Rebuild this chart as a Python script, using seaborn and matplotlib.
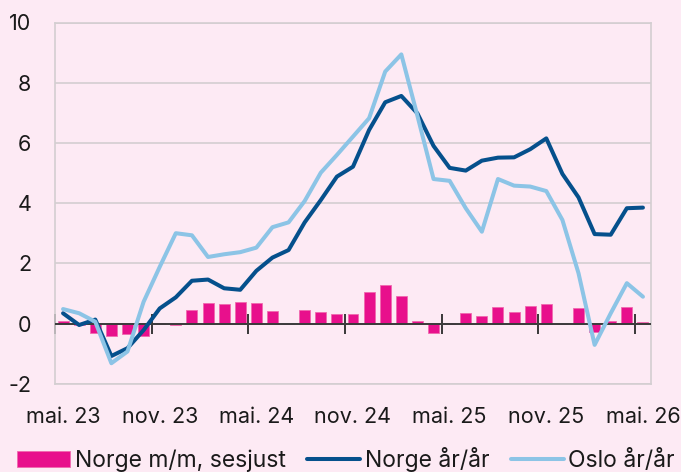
import matplotlib
matplotlib.use("Agg")
import matplotlib.pyplot as plt
import seaborn as sns
import pandas as pd
import numpy as np

# ---- data (monthly, mai 2023 .. mai 2026) ----
norge_mm = [0.08, -0.04, -0.30, -0.41, -0.35, -0.40, 0.01, -0.05, 0.44, 0.68,
            0.64, 0.72, 0.68, 0.42, -0.03, 0.46, 0.39, 0.32, 0.33, 1.05,
            1.28, 0.90, 0.09, -0.30, 0.02, 0.34, 0.25, 0.55, 0.39, 0.59,
            0.64, -0.03, 0.53, -0.27, 0.08, 0.54, 0.04]
norge_yy = [0.34, -0.05, 0.13, -1.08, -0.82, -0.22, 0.50, 0.87, 1.42, 1.46,
            1.17, 1.12, 1.75, 2.19, 2.44, 3.36, 4.10, 4.88, 5.21, 6.43,
            7.35, 7.56, 6.98, 5.90, 5.17, 5.08, 5.41, 5.51, 5.52, 5.79,
            6.15, 4.97, 4.19, 2.97, 2.95, 3.83, 3.85]
oslo_yy = [0.48, 0.34, 0.06, -1.32, -0.93, 0.72, 1.88, 3.00, 2.93, 2.21,
           2.30, 2.37, 2.52, 3.20, 3.36, 4.07, 5.01, 5.60, 6.21, 6.82,
           8.37, 8.94, 6.90, 4.80, 4.74, 3.83, 3.05, 4.80, 4.58, 4.55,
           4.40, 3.44, 1.67, -0.71, 0.34, 1.34, 0.89]
tick_labels = ["mai. 23", "nov. 23", "mai. 24", "nov. 24", "mai. 25", "nov. 25", "mai. 26"]
label_step = 6
y_ticks = [-2, 0, 2, 4, 6, 8, 10]

series_names = ["Norge m/m, sesjust", "Norge år/år", "Oslo år/år"]

# ---- style ----
BG = "#fdeaf4"
PINK = "#e8108c"
DARK = "#05508c"
LIGHT = "#8cc4e6"
GRID = "#d3ced1"
FS = 15.5
FS_LEG = 16.5

sns.set_theme(style="white")
plt.rcParams["font.family"] = ["Inter", "DejaVu Sans"]

n = len(norge_mm)
df = pd.DataFrame({"pos": np.arange(n), "mm": norge_mm,
                   "norge": norge_yy, "oslo": oslo_yy})

W, H = 681, 472
fig = plt.figure(figsize=(W / 100, H / 100), dpi=100, facecolor=BG)
left, right, top, bottom = 55, 651, 22.5, 383.7
ax = fig.add_axes([left / W, 1 - bottom / H, (right - left) / W, (bottom - top) / H])
ax.set_facecolor(BG)

sns.barplot(data=df, x="pos", y="mm", native_scale=True, width=0.68,
            color=PINK, edgecolor="#f06aaf", linewidth=0.6, saturation=1,
            ax=ax, zorder=2, label=series_names[0])
ax.axhline(0, color="#3a3a3a", lw=1.4, zorder=3)
sns.lineplot(data=df, x="pos", y="norge", color=DARK, lw=2.9, ax=ax,
             zorder=4, label=series_names[1])
sns.lineplot(data=df, x="pos", y="oslo", color=LIGHT, lw=2.9, ax=ax,
             zorder=5, label=series_names[2])

ax.set_xlim(-0.5, n - 0.5)
ax.set_ylim(-2, 10)
ax.set_yticks(y_ticks)
ax.set_yticklabels([str(v) for v in y_ticks])
ax.yaxis.grid(True, color=GRID, lw=1.2, zorder=0)
ax.set_axisbelow(True)

pos_labels = list(range(0, n, label_step))
ax.set_xticks(pos_labels)
ax.set_xticklabels(tick_labels)
ax.tick_params(axis="x", length=0, pad=17, labelsize=FS, labelcolor="#1a1a1a")
ax.tick_params(axis="y", length=0, pad=17, labelsize=FS, labelcolor="#1a1a1a")
ax.set_xlabel("")
ax.set_ylabel("")
for s in ax.spines.values():
    s.set_color(GRID)
    s.set_linewidth(1.2)

# tick marks on the zero line, between category groups
sec = ax.secondary_xaxis(2 / 12)
sec.set_xticks([p - 0.5 for p in pos_labels[1:]] + [-0.5])
sec.set_xticklabels([])
sec.tick_params(axis="x", direction="inout", length=15, width=1.3, color="#2a2a2a")
sec.spines["bottom"].set_visible(False)

handles, labels = ax.get_legend_handles_labels()
ax.get_legend().remove()
order = [labels.index(nm) for nm in series_names]
fpx = FS_LEG * 100 / 72
leg = fig.legend([handles[i] for i in order], [labels[i] for i in order],
                 loc="center left", bbox_to_anchor=(17 / W, 1 - 459.5 / H),
                 ncol=3, frameon=False, fontsize=FS_LEG, handlelength=53 / fpx,
                 handleheight=15 / fpx, handletextpad=5 / fpx, columnspacing=21 / fpx,
                 borderpad=0, borderaxespad=0)
for t in leg.get_texts():
    t.set_color("#1a1a1a")

fig.savefig("out.png", dpi=100, facecolor=BG)
